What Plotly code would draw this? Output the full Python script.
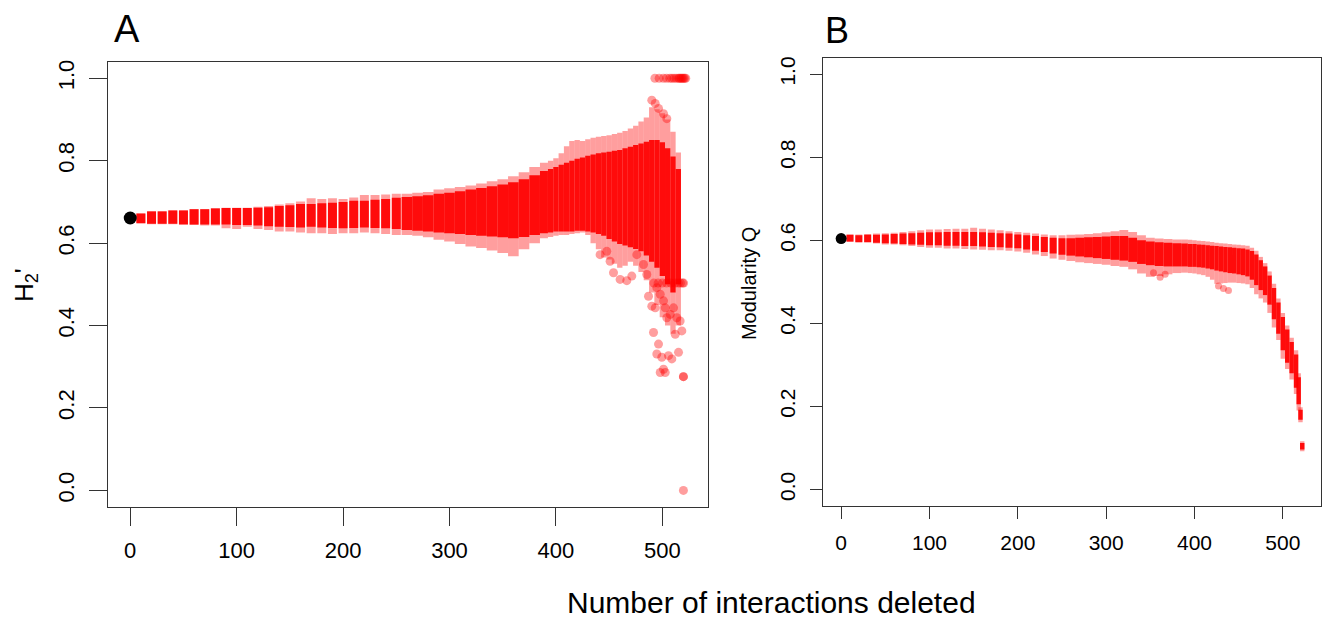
import plotly.graph_objects as go

# ---------------- Panel A : H2' ----------------
a_x = [10, 20, 30, 40, 50, 60, 70, 80, 90, 100, 110, 120, 130, 140, 150, 160, 170, 180, 190, 200,
       210, 220, 230, 240, 250, 260, 270, 280, 290, 300, 310, 320, 330, 340, 350, 360, 370, 380, 390,
       395, 400, 405, 410, 415, 420, 425, 430, 435, 440, 445, 450, 455, 460, 465, 470, 475, 480, 485, 490,
       495, 500, 505, 510, 515]
a_lo = [.648, .646, .646, .646, .644, .644, .643, .643, .636, .634, .640, .634, .632, .628, .628, .626, .624, .624, .622, .624,
        .624, .626, .624, .622, .620, .620, .618, .614, .608, .604, .598, .592, .588, .582, .576, .568, .585, .600, .612,
        .615, .618, .620, .620, .622, .624, .626, .620, .600, .585, .565, .560, .550, .540, .545, .555, .545, .530, .510, .480,
        .450, .420, .400, .380, .400]
a_hi = [.672, .678, .678, .680, .680, .683, .683, .685, .686, .686, .686, .688, .690, .694, .697, .701, .709, .707, .709, .707,
        .711, .717, .717, .718, .720, .720, .722, .724, .730, .733, .736, .740, .745, .750, .755, .762, .772, .785, .795,
        .800, .806, .818, .835, .848, .850, .848, .852, .856, .858, .860, .862, .865, .868, .872, .878, .885, .895, .905, .930,
        .925, .915, .900, .870, .820]
a_clo = [.648, .647, .647, .647, .646, .645, .645, .645, .645, .644, .644, .643, .641, .640, .639, .638, .640, .638, .637, .636,
         .637, .638, .637, .636, .634, .632, .630, .628, .626, .624, .622, .620, .618, .616, .614, .612, .615, .620, .624,
         .626, .628, .628, .628, .628, .630, .630, .628, .626, .622, .618, .610, .604, .598, .594, .590, .586, .580, .570, .555,
         .540, .520, .500, .480, .500]
a_chi = [.672, .677, .677, .679, .679, .682, .682, .684, .685, .685, .685, .686, .687, .690, .692, .695, .695, .697, .698, .700,
         .703, .703, .705, .707, .710, .712, .714, .716, .720, .722, .726, .730, .734, .738, .742, .748, .755, .765, .775,
         .780, .785, .790, .795, .800, .805, .808, .812, .815, .818, .820, .822, .824, .826, .830, .834, .838, .842, .846, .850,
         .850, .845, .830, .810, .780]

# scattered single simulations (panel A)
a_out_x = [441.5, 447.8, 450.9, 454.1, 460.3, 466.6, 471.3, 476.0, 482.3, 485.4, 487.0, 490.1, 493.3, 494.8,
           498.0, 501.1, 502.7, 504.2, 507.4, 510.5, 513.6, 516.7, 512.1, 518.3, 491.7, 496.4, 494.8, 499.5,
           505.8, 508.9, 515.2, 498.0, 502.7, 501.1, 519.8, 519.8, 519.8,
           490.1, 493.3, 496.4, 501.1, 504.2,
           492, 496, 500, 504, 508, 512, 515, 517, 519, 520,
           493, 497, 501, 504, 507, 509, 511, 513, 515, 516, 517, 518, 519, 520, 521, 522]
a_out_y = [0.572, 0.580, 0.556, 0.528, 0.512, 0.509, 0.520, 0.572, 0.548, 0.524, 0.471, 0.447, 0.443, 0.492,
           0.476, 0.460, 0.443, 0.419, 0.427, 0.443, 0.419, 0.411, 0.379, 0.387, 0.383, 0.355, 0.331, 0.323,
           0.327, 0.319, 0.335, 0.286, 0.286, 0.294, 0.276, 0.276, 0.0,
           0.947, 0.939, 0.927, 0.914, 0.902,
           0.503, 0.503, 0.503, 0.503, 0.503, 0.503, 0.503, 0.503, 0.503, 0.503,
           1.0, 1.0, 1.0, 1.0, 1.0, 1.0, 1.0, 1.0, 1.0, 1.0, 1.0, 1.0, 1.0, 1.0, 1.0, 1.0]
a_obs_x = [0]
a_obs_y = [0.661]

# ---------------- Panel B : Modularity Q ----------------
b_x = [10, 20, 30, 40, 50, 60, 70, 80, 90, 100, 110, 120, 130, 140, 150, 160, 170, 180, 190, 200,
       210, 220, 230, 240, 250, 260, 270, 280, 290, 300, 310, 320, 330, 340, 350, 360, 370, 380, 390,
       395, 400, 405, 410, 415, 420, 425, 430, 435, 440, 445, 450, 455, 460, 465, 470, 475, 480, 485, 490,
       495, 500, 505, 510, 515, 518, 520, 522]
b_lo = [.596, .594, .594, .592, .590, .590, .588, .586, .584, .582, .582, .580, .580, .579, .578, .577, .576, .576, .575, .573,
        .570, .566, .562, .556, .553, .550, .547, .545, .543, .541, .538, .536, .530, .520, .512, .514, .518, .521, .522,
        .521, .520, .518, .516, .512, .505, .495, .496, .497, .498, .498, .497, .496, .494, .485, .470, .460, .450, .425, .390,
        .360, .315, .290, .265, .230, .190, .162, .092]
b_hi = [.614, .614, .615, .616, .617, .618, .620, .622, .624, .626, .626, .627, .628, .628, .630, .628, .626, .624, .622, .620,
        .618, .616, .614, .612, .612, .613, .614, .615, .617, .619, .622, .625, .620, .612, .606, .604, .603, .602, .602,
        .601, .600, .599, .598, .597, .596, .594, .593, .592, .591, .590, .589, .588, .587, .582, .575, .560, .545, .525, .495,
        .460, .425, .395, .365, .335, .280, .198, .116]
b_clo = [.597, .596, .596, .594, .593, .592, .591, .590, .589, .588, .588, .587, .587, .586, .586, .585, .584, .583, .582, .581,
         .578, .575, .572, .568, .565, .563, .561, .559, .557, .555, .553, .551, .548, .543, .540, .538, .537, .537, .537,
         .536, .536, .535, .534, .532, .530, .527, .525, .523, .521, .520, .518, .516, .513, .505, .492, .480, .468, .445, .410,
         .375, .335, .305, .280, .245, .205, .168, .096]
b_chi = [.613, .612, .613, .613, .614, .615, .616, .617, .618, .619, .619, .620, .620, .620, .620, .619, .618, .617, .616, .614,
         .612, .610, .608, .606, .605, .605, .606, .607, .608, .609, .610, .610, .606, .600, .597, .595, .594, .593, .592,
         .591, .591, .590, .589, .588, .587, .586, .585, .584, .583, .582, .581, .580, .578, .574, .566, .552, .537, .515, .485,
         .450, .415, .385, .355, .325, .270, .192, .112]
b_out_x = [353.6, 361.1, 366.8, 427.2, 432.8, 438.5]
b_out_y = [0.522, 0.511, 0.518, 0.490, 0.484, 0.479]
b_obs_x = [0]
b_obs_y = [0.604]

x_ticks = [0, 100, 200, 300, 400, 500]
y_ticks = [0.0, 0.2, 0.4, 0.6, 0.8, 1.0]
y_ticktext = ["0.0", "0.2", "0.4", "0.6", "0.8", "1.0"]

LIGHT = "rgba(255,0,0,0.38)"
DENSE = "rgba(255,0,0,0.93)"
X_RANGE = [-20.9, 542.9]


def column_geometry(xs, dot_units, separate_until, min_units):
    """Each column is as wide as one dot while columns stand apart; after that
    the columns tile the axis between the midpoints to their neighbours."""
    lefts, widths = [], []
    for i, x in enumerate(xs):
        if x < separate_until:
            left, right = x - dot_units / 2, x + dot_units / 2
        else:
            prev_gap = x - xs[i - 1] if i > 0 else xs[i + 1] - x
            next_gap = xs[i + 1] - x if i + 1 < len(xs) else prev_gap
            left, right = x - prev_gap / 2, x + next_gap / 2
            if right - left < min_units:
                left, right = x - min_units / 2, x + min_units / 2
        lefts.append(left - x)
        widths.append(right - left)
    return lefts, widths


fig = go.Figure()


def add_panel(xs, lo, hi, clo, chi, ox, oy, bx, by, dot_px, black_size, xa, ya, plot_w_px):
    units_per_px = (X_RANGE[1] - X_RANGE[0]) / plot_w_px
    offs, wids = column_geometry(xs, dot_px * units_per_px, 255, 5)
    for l_arr, h_arr, col in ((lo, hi, LIGHT), (clo, chi, DENSE)):
        fig.add_trace(go.Bar(x=xs, base=l_arr, y=[h - l for l, h in zip(l_arr, h_arr)],
                             width=wids, offset=offs, marker=dict(color=col, line=dict(width=0)),
                             xaxis=xa, yaxis=ya, showlegend=False, hoverinfo="skip"))
    fig.add_trace(go.Scatter(x=ox, y=oy, mode="markers",
                             marker=dict(color=LIGHT, size=dot_px, line=dict(width=0)),
                             xaxis=xa, yaxis=ya, showlegend=False))
    fig.add_trace(go.Scatter(x=bx, y=by, mode="markers",
                             marker=dict(color="black", size=black_size, line=dict(width=0)),
                             xaxis=xa, yaxis=ya, showlegend=False))


W, H = 1330, 621
A_DOM_X = [108, 708]
B_DOM_X = [822.7, 1320.7]

add_panel(a_x, a_lo, a_hi, a_clo, a_chi, a_out_x, a_out_y, a_obs_x, a_obs_y, 9, 13, "x", "y",
          A_DOM_X[1] - A_DOM_X[0])
add_panel(b_x, b_lo, b_hi, b_clo, b_chi, b_out_x, b_out_y, b_obs_x, b_obs_y, 7, 11, "x2", "y2",
          B_DOM_X[1] - B_DOM_X[0])

FONT = "Liberation Sans, Arial, Helvetica, sans-serif"
AX = "#333333"


def xaxis(dom, anchor, tl, fs):
    return dict(domain=[dom[0] / W, dom[1] / W], anchor=anchor, range=X_RANGE, tickvals=x_ticks,
                ticks="outside", ticklen=tl, tickwidth=1.2, tickcolor=AX,
                showline=True, mirror=True, linecolor=AX, linewidth=1.2,
                showgrid=False, zeroline=False, tickfont=dict(family=FONT, size=fs, color="black"),
                ticklabelstandoff=6)


def yaxis(dom, anchor, tl, fs):
    return dict(domain=dom, anchor=anchor, range=[-0.04, 1.04], tickvals=y_ticks, ticktext=y_ticktext,
                ticks="outside", ticklen=tl, tickwidth=1.2, tickcolor=AX, tickangle=-90,
                showline=True, mirror=True, linecolor=AX, linewidth=1.2,
                showgrid=False, zeroline=False, tickfont=dict(family=FONT, size=fs, color="black"),
                ticklabelstandoff=6)


fig.update_layout(
    width=W, height=H, margin=dict(l=0, r=0, t=0, b=0),
    paper_bgcolor="white", plot_bgcolor="white", barmode="overlay",
    xaxis=xaxis(A_DOM_X, "y", 18, 22),
    yaxis=yaxis([1 - 506.5 / H, 1 - 60 / H], "x", 18, 22),
    xaxis2=xaxis(B_DOM_X, "y2", 12, 21),
    yaxis2=yaxis([1 - 505.7 / H, 1 - 55.7 / H], "x2", 12, 21),
    annotations=[
        dict(text="A", x=126.7 / W, y=1 - 27.5 / H, xref="paper", yref="paper", showarrow=False,
             xanchor="center", yanchor="middle", font=dict(family=FONT, size=38, color="black")),
        dict(text="B", x=836.7 / W, y=1 - 28.5 / H, xref="paper", yref="paper", showarrow=False,
             xanchor="center", yanchor="middle", font=dict(family=FONT, size=36, color="black")),
        dict(text="H<sub>2</sub>'", x=25 / W, y=1 - 284 / H, xref="paper", yref="paper", showarrow=False,
             textangle=-90, xanchor="center", yanchor="middle", font=dict(family=FONT, size=26, color="black")),
        dict(text="Modularity Q", x=749 / W, y=1 - 283 / H, xref="paper", yref="paper", showarrow=False,
             textangle=-90, xanchor="center", yanchor="middle", font=dict(family=FONT, size=20, color="black")),
        dict(text="Number of interactions deleted", x=771.5 / W, y=0, xref="paper", yref="paper",
             showarrow=False, xanchor="center", yanchor="bottom", font=dict(family=FONT, size=30, color="black")),
    ],
)

fig.write_html("out.html", config={"displayModeBar": False},
               post_script="document.body.style.margin='0';document.body.style.padding='0';"
                           "document.body.style.overflow='hidden';")
